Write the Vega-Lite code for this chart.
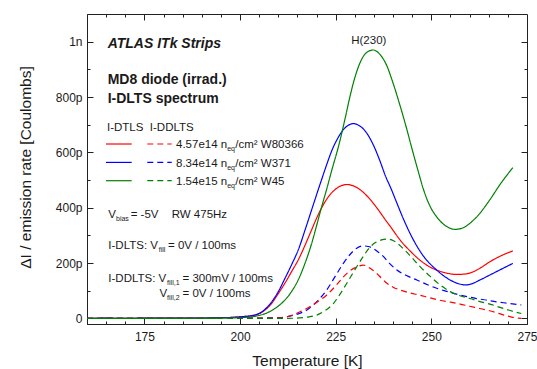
{
"$schema":"https://vega.github.io/schema/vega-lite/v6.json",
"width":440,"height":310,
"autosize":{"type":"none"},
"padding":{"left":87,"top":14,"right":10,"bottom":45},
"background":"white",
"config":{"view":{"stroke":"#222","strokeWidth":1},"font":"Liberation Sans","text":{"font":"Liberation Sans","color":"#1a1a1a","fontSize":11.5}},
"data":{"values":[{}]},
"resolve":{"axis":{"x":"independent","y":"independent"}},
"layer":[
{"data":{"values":[
{"s":"W80366","k":"DLTS","T":160,"v":0},{"s":"W80366","k":"DLTS","T":165,"v":1},{"s":"W80366","k":"DLTS","T":170,"v":0.5},{"s":"W80366","k":"DLTS","T":175,"v":1},{"s":"W80366","k":"DLTS","T":180,"v":1},{"s":"W80366","k":"DLTS","T":185,"v":1},{"s":"W80366","k":"DLTS","T":190,"v":1.5},{"s":"W80366","k":"DLTS","T":195,"v":2.5},{"s":"W80366","k":"DLTS","T":198,"v":4},{"s":"W80366","k":"DLTS","T":201,"v":7},{"s":"W80366","k":"DLTS","T":204,"v":12},{"s":"W80366","k":"DLTS","T":206,"v":25},{"s":"W80366","k":"DLTS","T":208,"v":50},{"s":"W80366","k":"DLTS","T":210,"v":90},{"s":"W80366","k":"DLTS","T":211.75,"v":128},{"s":"W80366","k":"DLTS","T":213.5,"v":170},{"s":"W80366","k":"DLTS","T":215.2,"v":211},{"s":"W80366","k":"DLTS","T":217,"v":265},{"s":"W80366","k":"DLTS","T":218.7,"v":320},{"s":"W80366","k":"DLTS","T":220,"v":362},{"s":"W80366","k":"DLTS","T":221.3,"v":399},{"s":"W80366","k":"DLTS","T":223,"v":438},{"s":"W80366","k":"DLTS","T":224.8,"v":465},{"s":"W80366","k":"DLTS","T":226.5,"v":480},{"s":"W80366","k":"DLTS","T":228,"v":484},{"s":"W80366","k":"DLTS","T":229.8,"v":478},{"s":"W80366","k":"DLTS","T":231.4,"v":465},{"s":"W80366","k":"DLTS","T":233.5,"v":438},{"s":"W80366","k":"DLTS","T":236,"v":395},{"s":"W80366","k":"DLTS","T":238,"v":356},{"s":"W80366","k":"DLTS","T":239.5,"v":328},{"s":"W80366","k":"DLTS","T":241.8,"v":284},{"s":"W80366","k":"DLTS","T":244.5,"v":243},{"s":"W80366","k":"DLTS","T":247,"v":211},{"s":"W80366","k":"DLTS","T":249,"v":191},{"s":"W80366","k":"DLTS","T":251.4,"v":175},{"s":"W80366","k":"DLTS","T":254,"v":164},{"s":"W80366","k":"DLTS","T":256.6,"v":159},{"s":"W80366","k":"DLTS","T":259,"v":161},{"s":"W80366","k":"DLTS","T":261,"v":169},{"s":"W80366","k":"DLTS","T":263,"v":184},{"s":"W80366","k":"DLTS","T":265.3,"v":205},{"s":"W80366","k":"DLTS","T":268,"v":225},{"s":"W80366","k":"DLTS","T":271.3,"v":244},
{"s":"W371","k":"DLTS","T":160,"v":0},{"s":"W371","k":"DLTS","T":165,"v":1},{"s":"W371","k":"DLTS","T":170,"v":0.5},{"s":"W371","k":"DLTS","T":175,"v":1},{"s":"W371","k":"DLTS","T":180,"v":1},{"s":"W371","k":"DLTS","T":185,"v":1},{"s":"W371","k":"DLTS","T":190,"v":1.5},{"s":"W371","k":"DLTS","T":195,"v":2.5},{"s":"W371","k":"DLTS","T":198,"v":4},{"s":"W371","k":"DLTS","T":201,"v":7},{"s":"W371","k":"DLTS","T":204,"v":13},{"s":"W371","k":"DLTS","T":206,"v":27},{"s":"W371","k":"DLTS","T":208,"v":55},{"s":"W371","k":"DLTS","T":210,"v":97},{"s":"W371","k":"DLTS","T":211.75,"v":145},{"s":"W371","k":"DLTS","T":213.5,"v":195},{"s":"W371","k":"DLTS","T":215.2,"v":247},{"s":"W371","k":"DLTS","T":217,"v":320},{"s":"W371","k":"DLTS","T":218.7,"v":392},{"s":"W371","k":"DLTS","T":220,"v":447},{"s":"W371","k":"DLTS","T":221.3,"v":501},{"s":"W371","k":"DLTS","T":222.7,"v":558},{"s":"W371","k":"DLTS","T":224,"v":607},{"s":"W371","k":"DLTS","T":225.5,"v":650},{"s":"W371","k":"DLTS","T":227,"v":682},{"s":"W371","k":"DLTS","T":228.3,"v":698},{"s":"W371","k":"DLTS","T":229.6,"v":704},{"s":"W371","k":"DLTS","T":231,"v":698},{"s":"W371","k":"DLTS","T":233.1,"v":670},{"s":"W371","k":"DLTS","T":235,"v":622},{"s":"W371","k":"DLTS","T":236.6,"v":568},{"s":"W371","k":"DLTS","T":238,"v":515},{"s":"W371","k":"DLTS","T":239.5,"v":468},{"s":"W371","k":"DLTS","T":240.9,"v":420},{"s":"W371","k":"DLTS","T":243,"v":350},{"s":"W371","k":"DLTS","T":245.3,"v":284},{"s":"W371","k":"DLTS","T":248,"v":224},{"s":"W371","k":"DLTS","T":251.4,"v":175},{"s":"W371","k":"DLTS","T":254.9,"v":139},{"s":"W371","k":"DLTS","T":257,"v":126},{"s":"W371","k":"DLTS","T":259.1,"v":121},{"s":"W371","k":"DLTS","T":260.5,"v":125},{"s":"W371","k":"DLTS","T":262.7,"v":139},{"s":"W371","k":"DLTS","T":265,"v":155},{"s":"W371","k":"DLTS","T":268,"v":176},{"s":"W371","k":"DLTS","T":271.3,"v":199},
{"s":"W45","k":"DLTS","T":160,"v":0},{"s":"W45","k":"DLTS","T":165,"v":0.5},{"s":"W45","k":"DLTS","T":170,"v":0},{"s":"W45","k":"DLTS","T":175,"v":0.5},{"s":"W45","k":"DLTS","T":180,"v":0.5},{"s":"W45","k":"DLTS","T":185,"v":0.5},{"s":"W45","k":"DLTS","T":190,"v":1},{"s":"W45","k":"DLTS","T":195,"v":1.5},{"s":"W45","k":"DLTS","T":200,"v":3},{"s":"W45","k":"DLTS","T":203,"v":6},{"s":"W45","k":"DLTS","T":205.3,"v":12},{"s":"W45","k":"DLTS","T":207,"v":20},{"s":"W45","k":"DLTS","T":209,"v":35},{"s":"W45","k":"DLTS","T":211.4,"v":62},{"s":"W45","k":"DLTS","T":213.5,"v":98},{"s":"W45","k":"DLTS","T":215.2,"v":139},{"s":"W45","k":"DLTS","T":217,"v":200},{"s":"W45","k":"DLTS","T":218.7,"v":270},{"s":"W45","k":"DLTS","T":220,"v":335},{"s":"W45","k":"DLTS","T":221.3,"v":402},{"s":"W45","k":"DLTS","T":222.7,"v":470},{"s":"W45","k":"DLTS","T":224,"v":537},{"s":"W45","k":"DLTS","T":225.8,"v":625},{"s":"W45","k":"DLTS","T":227.5,"v":725},{"s":"W45","k":"DLTS","T":228.7,"v":800},{"s":"W45","k":"DLTS","T":230,"v":870},{"s":"W45","k":"DLTS","T":231.4,"v":925},{"s":"W45","k":"DLTS","T":233,"v":960},{"s":"W45","k":"DLTS","T":234.8,"v":970},{"s":"W45","k":"DLTS","T":236.5,"v":955},{"s":"W45","k":"DLTS","T":238.3,"v":915},{"s":"W45","k":"DLTS","T":240,"v":850},{"s":"W45","k":"DLTS","T":241.8,"v":770},{"s":"W45","k":"DLTS","T":243.5,"v":688},{"s":"W45","k":"DLTS","T":244.9,"v":615},{"s":"W45","k":"DLTS","T":246.5,"v":535},{"s":"W45","k":"DLTS","T":247.9,"v":468},{"s":"W45","k":"DLTS","T":249.5,"v":410},{"s":"W45","k":"DLTS","T":251.4,"v":367},{"s":"W45","k":"DLTS","T":253.5,"v":337},{"s":"W45","k":"DLTS","T":256.2,"v":322},{"s":"W45","k":"DLTS","T":258,"v":326},{"s":"W45","k":"DLTS","T":260.1,"v":344},{"s":"W45","k":"DLTS","T":262.5,"v":377},{"s":"W45","k":"DLTS","T":265.3,"v":429},{"s":"W45","k":"DLTS","T":268,"v":485},{"s":"W45","k":"DLTS","T":271.3,"v":545},
{"s":"W371","k":"DDLTS","T":160,"v":0},{"s":"W371","k":"DDLTS","T":170,"v":0},{"s":"W371","k":"DDLTS","T":180,"v":0},{"s":"W371","k":"DDLTS","T":190,"v":0.5},{"s":"W371","k":"DDLTS","T":200,"v":1},{"s":"W371","k":"DDLTS","T":205,"v":1.5},{"s":"W371","k":"DDLTS","T":210.4,"v":3},{"s":"W371","k":"DDLTS","T":214,"v":12},{"s":"W371","k":"DDLTS","T":217.4,"v":30},{"s":"W371","k":"DDLTS","T":220,"v":60},{"s":"W371","k":"DDLTS","T":222.6,"v":102},{"s":"W371","k":"DDLTS","T":225,"v":155},{"s":"W371","k":"DDLTS","T":227,"v":199},{"s":"W371","k":"DDLTS","T":228.8,"v":232},{"s":"W371","k":"DDLTS","T":230.5,"v":254},{"s":"W371","k":"DDLTS","T":232.2,"v":262},{"s":"W371","k":"DDLTS","T":233.5,"v":260},{"s":"W371","k":"DDLTS","T":234.8,"v":253},{"s":"W371","k":"DDLTS","T":236,"v":241},{"s":"W371","k":"DDLTS","T":237.4,"v":225},{"s":"W371","k":"DDLTS","T":239,"v":200},{"s":"W371","k":"DDLTS","T":240.9,"v":176},{"s":"W371","k":"DDLTS","T":243.5,"v":155},{"s":"W371","k":"DDLTS","T":246.2,"v":139},{"s":"W371","k":"DDLTS","T":249,"v":122},{"s":"W371","k":"DDLTS","T":251.4,"v":109},{"s":"W371","k":"DDLTS","T":254,"v":98},{"s":"W371","k":"DDLTS","T":256.6,"v":88},{"s":"W371","k":"DDLTS","T":259,"v":80},{"s":"W371","k":"DDLTS","T":261.8,"v":72},{"s":"W371","k":"DDLTS","T":264.5,"v":66},{"s":"W371","k":"DDLTS","T":267,"v":60},{"s":"W371","k":"DDLTS","T":270,"v":55},{"s":"W371","k":"DDLTS","T":273.5,"v":49},
{"s":"W80366","k":"DDLTS","T":160,"v":0},{"s":"W80366","k":"DDLTS","T":170,"v":0},{"s":"W80366","k":"DDLTS","T":180,"v":0},{"s":"W80366","k":"DDLTS","T":190,"v":0.5},{"s":"W80366","k":"DDLTS","T":200,"v":0.5},{"s":"W80366","k":"DDLTS","T":205,"v":1},{"s":"W80366","k":"DDLTS","T":210.4,"v":2},{"s":"W80366","k":"DDLTS","T":214,"v":14},{"s":"W80366","k":"DDLTS","T":217.4,"v":36},{"s":"W80366","k":"DDLTS","T":220,"v":58},{"s":"W80366","k":"DDLTS","T":222.6,"v":84},{"s":"W80366","k":"DDLTS","T":225,"v":118},{"s":"W80366","k":"DDLTS","T":227,"v":150},{"s":"W80366","k":"DDLTS","T":229,"v":175},{"s":"W80366","k":"DDLTS","T":230.5,"v":186},{"s":"W80366","k":"DDLTS","T":232.2,"v":193},{"s":"W80366","k":"DDLTS","T":234,"v":181},{"s":"W80366","k":"DDLTS","T":235.7,"v":163},{"s":"W80366","k":"DDLTS","T":237,"v":145},{"s":"W80366","k":"DDLTS","T":238.3,"v":128},{"s":"W80366","k":"DDLTS","T":240,"v":113},{"s":"W80366","k":"DDLTS","T":241.8,"v":103},{"s":"W80366","k":"DDLTS","T":244.5,"v":92},{"s":"W80366","k":"DDLTS","T":247,"v":84},{"s":"W80366","k":"DDLTS","T":249.5,"v":75},{"s":"W80366","k":"DDLTS","T":252.2,"v":66},{"s":"W80366","k":"DDLTS","T":255,"v":59},{"s":"W80366","k":"DDLTS","T":257.5,"v":52},{"s":"W80366","k":"DDLTS","T":260,"v":44},{"s":"W80366","k":"DDLTS","T":262.7,"v":36},{"s":"W80366","k":"DDLTS","T":265.5,"v":27},{"s":"W80366","k":"DDLTS","T":268.8,"v":13},{"s":"W80366","k":"DDLTS","T":271,"v":5},{"s":"W80366","k":"DDLTS","T":273.5,"v":0},
{"s":"W45","k":"DDLTS","T":160,"v":0},{"s":"W45","k":"DDLTS","T":170,"v":0},{"s":"W45","k":"DDLTS","T":180,"v":0},{"s":"W45","k":"DDLTS","T":190,"v":0},{"s":"W45","k":"DDLTS","T":200,"v":0},{"s":"W45","k":"DDLTS","T":205,"v":0},{"s":"W45","k":"DDLTS","T":210,"v":0.5},{"s":"W45","k":"DDLTS","T":214.8,"v":1},{"s":"W45","k":"DDLTS","T":217.5,"v":5},{"s":"W45","k":"DDLTS","T":220,"v":12},{"s":"W45","k":"DDLTS","T":222.2,"v":28},{"s":"W45","k":"DDLTS","T":224.4,"v":54},{"s":"W45","k":"DDLTS","T":226,"v":85},{"s":"W45","k":"DDLTS","T":227.9,"v":127},{"s":"W45","k":"DDLTS","T":229.2,"v":157},{"s":"W45","k":"DDLTS","T":230.5,"v":187},{"s":"W45","k":"DDLTS","T":232.2,"v":224},{"s":"W45","k":"DDLTS","T":233.9,"v":257},{"s":"W45","k":"DDLTS","T":235.5,"v":275},{"s":"W45","k":"DDLTS","T":237,"v":284},{"s":"W45","k":"DDLTS","T":238.5,"v":287},{"s":"W45","k":"DDLTS","T":240.1,"v":281},{"s":"W45","k":"DDLTS","T":242.3,"v":257},{"s":"W45","k":"DDLTS","T":244.5,"v":226},{"s":"W45","k":"DDLTS","T":247,"v":188},{"s":"W45","k":"DDLTS","T":249.7,"v":152},{"s":"W45","k":"DDLTS","T":252.3,"v":121},{"s":"W45","k":"DDLTS","T":254.9,"v":97},{"s":"W45","k":"DDLTS","T":257.5,"v":82},{"s":"W45","k":"DDLTS","T":260.1,"v":72},{"s":"W45","k":"DDLTS","T":262.7,"v":61},{"s":"W45","k":"DDLTS","T":265.3,"v":52},{"s":"W45","k":"DDLTS","T":267.5,"v":42},{"s":"W45","k":"DDLTS","T":269.6,"v":33},{"s":"W45","k":"DDLTS","T":271.5,"v":25},{"s":"W45","k":"DDLTS","T":273.5,"v":18}
]},
"mark":{"type":"line","interpolate":"monotone","strokeWidth":1.2},
"encoding":{
"x":{"field":"T","type":"quantitative","scale":{"domain":[160,275],"nice":false,"zero":false},
"axis":{"orient":"bottom","values":[165,170,175,180,185,190,195,200,205,210,215,220,225,230,235,240,245,250,255,260,265,270,275],"labelExpr":"datum.value % 25 === 0 ? datum.label : ''","tickSize":{"condition":{"test":"datum.value % 25 === 0","value":-6},"value":-3},"tickColor":"#222","domainColor":"#222","labelPadding":13,"labelFontSize":12,"labelColor":"#1a1a1a","labelFont":"Liberation Sans","labelFlush":false,"labelOverlap":false,"grid":false,"title":"Temperature [K]","titleFontSize":15.5,"titleFontWeight":"normal","titleColor":"#1a1a1a","titleFont":"Liberation Sans","titleX":220,"titleY":36,"titleBaseline":"middle","titleAlign":"center"}},
"y":{"field":"v","type":"quantitative","scale":{"domain":[-20,1100],"nice":false,"zero":false},
"axis":{"orient":"left","values":[0,100,200,300,400,500,600,700,800,900,1000],"labelExpr":"datum.value === 0 ? '0' : datum.value === 1000 ? '1n' : datum.value % 200 === 0 ? datum.value + 'p' : ''","tickSize":{"condition":{"test":"datum.value % 200 === 0","value":-6},"value":-3},"tickColor":"#222","domainColor":"#222","labelPadding":11,"labelFontSize":12,"labelColor":"#1a1a1a","labelFont":"Liberation Sans","labelFlush":false,"labelOverlap":false,"grid":false,"title":"ΔI / emission rate [Coulombs]","titleFontSize":15.5,"titleFontWeight":"normal","titleColor":"#1a1a1a","titleFont":"Liberation Sans","titleX":-62,"titleY":153,"titleAngle":270,"titleAlign":"center","titleBaseline":"middle"}},
"color":{"field":"s","type":"nominal","scale":{"domain":["W80366","W371","W45"],"range":["#ff0000","#0000ff","#008000"]},"legend":null},
"strokeDash":{"field":"k","type":"nominal","scale":{"domain":["DLTS","DDLTS"],"range":[[1,0],[6,4]]},"legend":null}
}},
{"data":{"values":[{"T":200,"v":0}]},
"mark":{"type":"point","opacity":0},
"encoding":{
"x":{"field":"T","type":"quantitative","axis":{"orient":"top","values":[165,170,175,180,185,190,195,200,205,210,215,220,225,230,235,240,245,250,255,260,265,270],"labels":false,"domain":false,"grid":false,"title":null,"tickColor":"#222","tickSize":{"condition":{"test":"datum.value % 25 === 0","value":-6},"value":-3}}},
"y":{"field":"v","type":"quantitative","axis":{"orient":"right","values":[0,100,200,300,400,500,600,700,800,900,1000],"labels":false,"domain":false,"grid":false,"title":null,"tickColor":"#222","tickSize":{"condition":{"test":"datum.value % 200 === 0","value":-6},"value":-3}}}
}},
{"mark":{"type":"rule","color":"#ff0000","strokeWidth":1.2},"encoding":{"x":{"datum":164.97,"type":"quantitative","axis":null},"x2":{"datum":171.68},"y":{"datum":630.3,"type":"quantitative","axis":null}}},
{"mark":{"type":"rule","color":"#0000ff","strokeWidth":1.2},"encoding":{"x":{"datum":164.97,"type":"quantitative","axis":null},"x2":{"datum":171.68},"y":{"datum":563.8,"type":"quantitative","axis":null}}},
{"mark":{"type":"rule","color":"#008000","strokeWidth":1.2},"encoding":{"x":{"datum":164.97,"type":"quantitative","axis":null},"x2":{"datum":171.68},"y":{"datum":497.7,"type":"quantitative","axis":null}}},
{"mark":{"type":"rule","color":"#ff0000","strokeWidth":1.2,"strokeDash":[6,4]},"encoding":{"x":{"datum":175.76,"type":"quantitative","axis":null},"x2":{"datum":182.14},"y":{"datum":630.3,"type":"quantitative","axis":null}}},
{"mark":{"type":"rule","color":"#0000ff","strokeWidth":1.2,"strokeDash":[6,4]},"encoding":{"x":{"datum":175.76,"type":"quantitative","axis":null},"x2":{"datum":182.14},"y":{"datum":563.8,"type":"quantitative","axis":null}}},
{"mark":{"type":"rule","color":"#008000","strokeWidth":1.2,"strokeDash":[6,4]},"encoding":{"x":{"datum":175.76,"type":"quantitative","axis":null},"x2":{"datum":182.14},"y":{"datum":497.7,"type":"quantitative","axis":null}}},
{"mark":{"type":"text","text":"ATLAS ITk Strips","align":"left","baseline":"alphabetic","fontSize":14,"fontWeight":"bold","fontStyle":"italic"},"encoding":{"x":{"datum":165.41,"type":"quantitative","axis":null},"y":{"datum":976.1,"type":"quantitative","axis":null}}},
{"mark":{"type":"text","text":"MD8 diode (irrad.)","align":"left","baseline":"alphabetic","fontSize":14,"fontWeight":"bold"},"encoding":{"x":{"datum":165.41,"type":"quantitative","axis":null},"y":{"datum":846.0,"type":"quantitative","axis":null}}},
{"mark":{"type":"text","text":"I-DLTS spectrum","align":"left","baseline":"alphabetic","fontSize":14,"fontWeight":"bold"},"encoding":{"x":{"datum":165.41,"type":"quantitative","axis":null},"y":{"datum":779.5,"type":"quantitative","axis":null}}},
{"mark":{"type":"text","text":"I-DTLS\u00a0 I-DDLTS","align":"left","baseline":"alphabetic"},"encoding":{"x":{"datum":165.23,"type":"quantitative","axis":null},"y":{"datum":677.3,"type":"quantitative","axis":null}}},
{"mark":{"type":"text","text":"4.57e14 n","align":"left","baseline":"alphabetic"},"encoding":{"x":{"datum":183.26,"type":"quantitative","axis":null},"y":{"datum":614.8,"type":"quantitative","axis":null}}},
{"mark":{"type":"text","text":"eq","align":"left","baseline":"alphabetic","fontSize":7},"encoding":{"x":{"datum":196.64,"type":"quantitative","axis":null},"y":{"datum":603.9,"type":"quantitative","axis":null}}},
{"mark":{"type":"text","text":"/cm² W80366","align":"left","baseline":"alphabetic"},"encoding":{"x":{"datum":198.76,"type":"quantitative","axis":null},"y":{"datum":614.8,"type":"quantitative","axis":null}}},
{"mark":{"type":"text","text":"8.34e14 n","align":"left","baseline":"alphabetic"},"encoding":{"x":{"datum":183.26,"type":"quantitative","axis":null},"y":{"datum":548.3,"type":"quantitative","axis":null}}},
{"mark":{"type":"text","text":"eq","align":"left","baseline":"alphabetic","fontSize":7},"encoding":{"x":{"datum":196.64,"type":"quantitative","axis":null},"y":{"datum":537.5,"type":"quantitative","axis":null}}},
{"mark":{"type":"text","text":"/cm² W371","align":"left","baseline":"alphabetic"},"encoding":{"x":{"datum":198.76,"type":"quantitative","axis":null},"y":{"datum":548.3,"type":"quantitative","axis":null}}},
{"mark":{"type":"text","text":"1.54e15 n","align":"left","baseline":"alphabetic"},"encoding":{"x":{"datum":183.26,"type":"quantitative","axis":null},"y":{"datum":482.2,"type":"quantitative","axis":null}}},
{"mark":{"type":"text","text":"eq","align":"left","baseline":"alphabetic","fontSize":7},"encoding":{"x":{"datum":196.64,"type":"quantitative","axis":null},"y":{"datum":471.3,"type":"quantitative","axis":null}}},
{"mark":{"type":"text","text":"/cm² W45","align":"left","baseline":"alphabetic"},"encoding":{"x":{"datum":198.76,"type":"quantitative","axis":null},"y":{"datum":482.2,"type":"quantitative","axis":null}}},
{"mark":{"type":"text","text":"V","align":"left","baseline":"alphabetic"},"encoding":{"x":{"datum":165.57,"type":"quantitative","axis":null},"y":{"datum":364.0,"type":"quantitative","axis":null}}},
{"mark":{"type":"text","text":"bias","align":"left","baseline":"alphabetic","fontSize":7},"encoding":{"x":{"datum":167.58,"type":"quantitative","axis":null},"y":{"datum":353.2,"type":"quantitative","axis":null}}},
{"mark":{"type":"text","text":"= -5V","align":"left","baseline":"alphabetic"},"encoding":{"x":{"datum":171.42,"type":"quantitative","axis":null},"y":{"datum":364.0,"type":"quantitative","axis":null}}},
{"mark":{"type":"text","text":"RW 475Hz","align":"left","baseline":"alphabetic"},"encoding":{"x":{"datum":182.14,"type":"quantitative","axis":null},"y":{"datum":364.0,"type":"quantitative","axis":null}}},
{"mark":{"type":"text","text":"I-DLTS: V","align":"left","baseline":"alphabetic"},"encoding":{"x":{"datum":165.57,"type":"quantitative","axis":null},"y":{"datum":251.0,"type":"quantitative","axis":null}}},
{"mark":{"type":"text","text":"fill","align":"left","baseline":"alphabetic","fontSize":7},"encoding":{"x":{"datum":178.77,"type":"quantitative","axis":null},"y":{"datum":240.1,"type":"quantitative","axis":null}}},
{"mark":{"type":"text","text":"= 0V / 100ms","align":"left","baseline":"alphabetic"},"encoding":{"x":{"datum":181.17,"type":"quantitative","axis":null},"y":{"datum":251.0,"type":"quantitative","axis":null}}},
{"mark":{"type":"text","text":"I-DDLTS: V","align":"left","baseline":"alphabetic"},"encoding":{"x":{"datum":165.57,"type":"quantitative","axis":null},"y":{"datum":133.5,"type":"quantitative","axis":null}}},
{"mark":{"type":"text","text":"fill,1","align":"left","baseline":"alphabetic","fontSize":7},"encoding":{"x":{"datum":180.94,"type":"quantitative","axis":null},"y":{"datum":122.7,"type":"quantitative","axis":null}}},
{"mark":{"type":"text","text":"= 300mV / 100ms","align":"left","baseline":"alphabetic"},"encoding":{"x":{"datum":184.96,"type":"quantitative","axis":null},"y":{"datum":133.5,"type":"quantitative","axis":null}}},
{"mark":{"type":"text","text":"V","align":"left","baseline":"alphabetic"},"encoding":{"x":{"datum":178.92,"type":"quantitative","axis":null},"y":{"datum":77.5,"type":"quantitative","axis":null}}},
{"mark":{"type":"text","text":"fill,2","align":"left","baseline":"alphabetic","fontSize":7},"encoding":{"x":{"datum":180.94,"type":"quantitative","axis":null},"y":{"datum":66.7,"type":"quantitative","axis":null}}},
{"mark":{"type":"text","text":"= 0V / 100ms","align":"left","baseline":"alphabetic"},"encoding":{"x":{"datum":184.96,"type":"quantitative","axis":null},"y":{"datum":77.5,"type":"quantitative","axis":null}}},
{"mark":{"type":"text","text":"H(230)","align":"center","baseline":"alphabetic"},"encoding":{"x":{"datum":233.65,"type":"quantitative","axis":null},"y":{"datum":991.6,"type":"quantitative","axis":null}}}
]
}
